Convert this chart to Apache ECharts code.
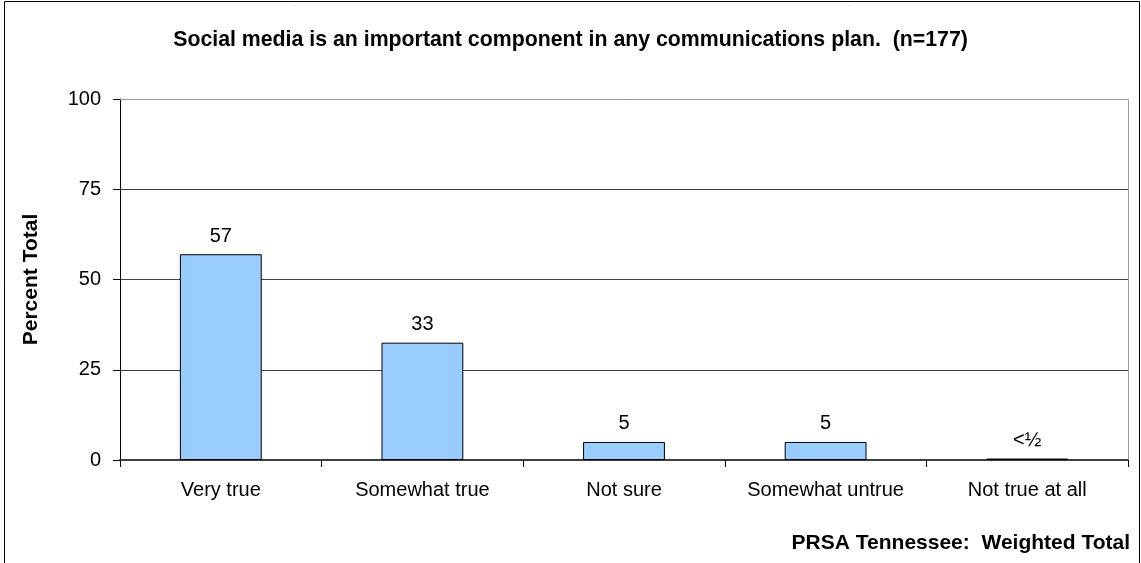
<!DOCTYPE html>
<html><head><meta charset="utf-8">
<script src="https://cdn.jsdelivr.net/npm/echarts@6/dist/echarts.min.js"></script>
<style>html,body{margin:0;padding:0;background:#fff}#c{width:1141px;height:563px}</style>
</head><body><div id="c"></div>
<script>
const categories = ["Very true", "Somewhat true", "Not sure", "Somewhat untrue", "Not true at all"];
const values = [57, 32.5, 5, 5, 0.4];
const valueLabels = ["57", "33", "5", "5", "<½"];
const yTicks = [0, 25, 50, 75, 100];
const titleText = "Social media is an important component in any communications plan.  (n=177)";
const yAxisTitle = "Percent Total";
const footerText = "PRSA Tennessee:  Weighted Total";

const chart = echarts.init(document.getElementById('c'));
const F = 'Liberation Sans, Arial, sans-serif';
chart.setOption({
  animation: false,
  backgroundColor: '#fff',
  graphic: [
    {type: 'rect', shape: {x: 4.5, y: 1.5, width: 1135, height: 580}, style: {fill: 'none', stroke: '#000', lineWidth: 1}, silent: true},
    {type: 'line', shape: {x1: 120, y1: 99.5, x2: 1128.5, y2: 99.5}, style: {stroke: '#999', lineWidth: 1}, z: 1},
    {type: 'line', shape: {x1: 1128.5, y1: 99.5, x2: 1128.5, y2: 460}, style: {stroke: '#999', lineWidth: 1}, z: 1}
  ],
  title: [
    {text: titleText, left: 'center', top: 25, textStyle: {fontFamily: F, fontSize: 21.3, fontWeight: 'bold', color: '#000'}},
    {text: footerText, right: 6, top: 528, textStyle: {fontFamily: F, fontSize: 21, fontWeight: 'bold', color: '#000'}}
  ],
  grid: {left: 120, right: 13, top: 99, bottom: 103, containLabel: false},
  xAxis: {
    type: 'category', data: categories,
    axisLine: {show: true, lineStyle: {color: '#404040', width: 2}},
    axisTick: {show: true, interval: 0, alignWithLabel: false, length: 7, lineStyle: {color: '#000'}},
    axisLabel: {interval: 0, fontFamily: F, fontSize: 20, color: '#000', margin: 20}
  },
  yAxis: {
    type: 'value', min: 0, max: 100, interval: 25,
    name: yAxisTitle, nameLocation: 'middle', nameGap: 78,
    nameTextStyle: {fontFamily: F, fontSize: 21, fontWeight: 'bold', color: '#000'},
    axisLine: {show: true, lineStyle: {color: '#000', width: 1}},
    axisTick: {show: true, length: 7, lineStyle: {color: '#000'}},
    axisLabel: {fontFamily: F, fontSize: 20, color: '#000', margin: 19,
      formatter: v => yTicks.includes(v) ? String(v) : ''},
    splitLine: {show: true, lineStyle: {color: '#404040', width: 1}}
  },
  series: [{
    type: 'bar', data: values, barWidth: '40.6%',
    itemStyle: {color: '#99CCFF', borderColor: '#000', borderWidth: 1},
    label: {show: true, position: 'top', distance: 8, fontFamily: F, fontSize: 20, color: '#000',
      formatter: p => valueLabels[p.dataIndex]}
  }]
});
</script></body></html>
